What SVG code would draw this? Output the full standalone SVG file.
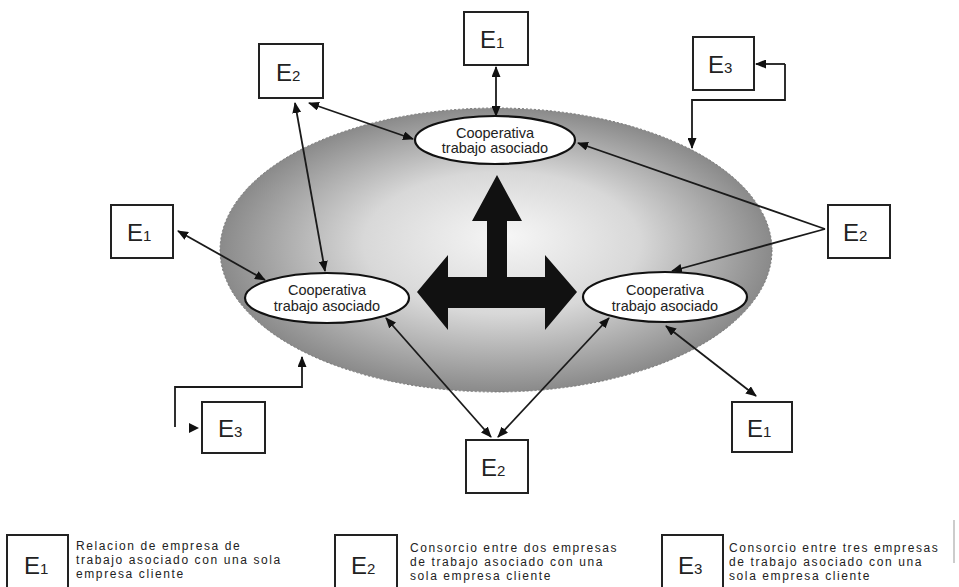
<svg xmlns="http://www.w3.org/2000/svg" width="959" height="587" viewBox="0 0 959 587">
<defs>
<radialGradient id="g" cx="0.5" cy="0.5" r="0.5" fx="0.52" fy="0.45">
<stop offset="0" stop-color="#f6f6f6"/>
<stop offset="0.5" stop-color="#d8d8d8"/>
<stop offset="1" stop-color="#8a8a8a"/>
</radialGradient>
<marker id="ah" markerWidth="11" markerHeight="9" refX="10" refY="4.5" orient="auto-start-reverse" markerUnits="userSpaceOnUse">
<path d="M0,0 L11,4.5 L0,9 z" fill="#111"/>
</marker>
</defs>
<style>
.box{fill:#fff;stroke:#222;stroke-width:2}
.e{font-family:"Liberation Sans",Arial,sans-serif;font-size:24px;fill:#222}
.s{font-size:15px}
.coop{fill:#fff;stroke:#111;stroke-width:2.2}
.ct{font-family:"Liberation Sans",Arial,sans-serif;font-size:14.5px;fill:#222;text-anchor:middle}
.c{fill:none;stroke:#1a1a1a;stroke-width:1.8}
.lt{font-family:"Liberation Sans",Arial,sans-serif;font-size:12px;letter-spacing:1.6px;fill:#222}
</style>
<rect width="959" height="587" fill="#fff"/>
<g id="platform">
<ellipse cx="496" cy="250" rx="276" ry="142" fill="url(#g)" stroke="#777" stroke-width="1" stroke-dasharray="2,2"/>
</g>
<g id="central-arrow">
<polygon points="497,175 522,221 507,221 507,277 545,277 545,255 577,292 545,330 545,308 448,308 448,330 417,292 448,255 448,277 487,277 487,221 472,221" fill="#111"/>
</g>
<g id="connectors">
<line class="c" x1="496" y1="67" x2="496" y2="116" stroke-width="3" marker-start="url(#ah)" marker-end="url(#ah)"/>
<line class="c" x1="309" y1="103" x2="413" y2="139" marker-start="url(#ah)" marker-end="url(#ah)"/>
<line class="c" x1="295" y1="103" x2="325" y2="271" marker-start="url(#ah)" marker-end="url(#ah)"/>
<line class="c" x1="178" y1="231" x2="265" y2="280" marker-start="url(#ah)" marker-end="url(#ah)"/>
<line class="c" x1="825" y1="229" x2="578" y2="143" marker-end="url(#ah)"/>
<line class="c" x1="825" y1="229" x2="672" y2="271" marker-end="url(#ah)"/>
<line class="c" x1="666" y1="326" x2="756" y2="396" marker-start="url(#ah)" marker-end="url(#ah)"/>
<line class="c" x1="386" y1="318" x2="491" y2="437" marker-start="url(#ah)" marker-end="url(#ah)"/>
<line class="c" x1="609" y1="318" x2="498" y2="437" marker-start="url(#ah)" marker-end="url(#ah)"/>
<path class="c" d="M785,64 H756" marker-end="url(#ah)"/>
<path class="c" d="M785,64 V100 H692 V148" marker-end="url(#ah)"/>
<path class="c" d="M175,427 V387 H302 V357" marker-end="url(#ah)"/>
<polygon points="189,423 199,428 189,433" fill="#111"/>
</g>
<g id="coop-top">
<ellipse class="coop" cx="495" cy="140" rx="80" ry="24"/>
<text class="ct" x="495" y="138">Cooperativa</text>
<text class="ct" x="495" y="153">trabajo asociado</text>
</g>
<g id="coop-left">
<ellipse class="coop" cx="327" cy="298" rx="82" ry="25"/>
<text class="ct" x="327" y="295">Cooperativa</text>
<text class="ct" x="327" y="311">trabajo asociado</text>
</g>
<g id="coop-right">
<ellipse class="coop" cx="665" cy="297" rx="82" ry="25"/>
<text class="ct" x="665" y="295">Cooperativa</text>
<text class="ct" x="665" y="311">trabajo asociado</text>
</g>
<g id="e1-top">
<rect class="box" x="464" y="12" width="64" height="53"/>
<text class="e" x="480" y="48">E<tspan class="s">1</tspan></text>
</g>
<g id="e3-top">
<rect class="box" x="693" y="37" width="61" height="53"/>
<text class="e" x="708" y="73">E<tspan class="s">3</tspan></text>
</g>
<g id="e2-topleft">
<rect class="box" x="259" y="44" width="64" height="54"/>
<text class="e" x="276" y="81">E<tspan class="s">2</tspan></text>
</g>
<g id="e1-left">
<rect class="box" x="111" y="205" width="62" height="53"/>
<text class="e" x="127" y="241">E<tspan class="s">1</tspan></text>
</g>
<g id="e2-right">
<rect class="box" x="828" y="205" width="62" height="53"/>
<text class="e" x="843" y="241">E<tspan class="s">2</tspan></text>
</g>
<g id="e3-left">
<rect class="box" x="202" y="402" width="63" height="51"/>
<text class="e" x="218" y="437">E<tspan class="s">3</tspan></text>
</g>
<g id="e1-bottomright">
<rect class="box" x="732" y="402" width="60" height="50"/>
<text class="e" x="747" y="437">E<tspan class="s">1</tspan></text>
</g>
<g id="e2-bottom">
<rect class="box" x="466" y="440" width="62" height="53"/>
<text class="e" x="481" y="476">E<tspan class="s">2</tspan></text>
</g>
<g id="legend-e1">
<rect class="box" x="7" y="535" width="61" height="60"/>
<text class="e" x="24" y="574">E<tspan class="s">1</tspan></text>
<text class="lt" x="76" y="550">Relacion de empresa de</text>
<text class="lt" x="76" y="564">trabajo asociado con una sola</text>
<text class="lt" x="76" y="578">empresa cliente</text>
</g>
<g id="legend-e2">
<rect class="box" x="335" y="535" width="62" height="60"/>
<text class="e" x="351" y="574">E<tspan class="s">2</tspan></text>
<text class="lt" x="410" y="552">Consorcio entre dos empresas</text>
<text class="lt" x="410" y="566">de trabajo asociado con una</text>
<text class="lt" x="410" y="580">sola empresa cliente</text>
</g>
<g id="legend-e3">
<rect class="box" x="662" y="535" width="61" height="60"/>
<text class="e" x="678" y="574">E<tspan class="s">3</tspan></text>
<text class="lt" x="729" y="552">Consorcio entre tres empresas</text>
<text class="lt" x="729" y="566">de trabajo asociado con una</text>
<text class="lt" x="729" y="580">sola empresa cliente</text>
</g>
<line x1="954" y1="520" x2="954" y2="563" stroke="#999" stroke-width="1"/>
</svg>
